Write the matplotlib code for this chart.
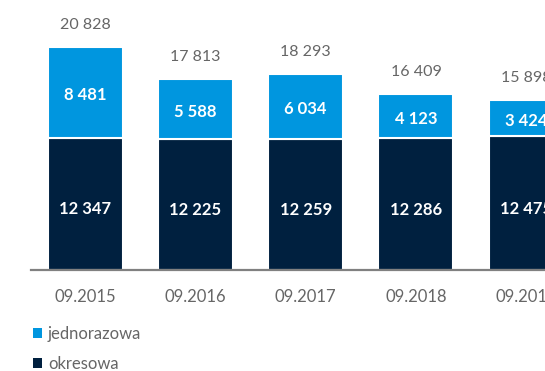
import matplotlib.pyplot as plt

plt.rcParams['font.family'] = ['Lato', 'DejaVu Sans']

okresy = ["09.2015", "09.2016", "09.2017", "09.2018", "09.2019"]
okresowa = [12347, 12225, 12259, 12286, 12475]
jednorazowa = [8481, 5588, 6034, 4123, 3424]
razem = [20828, 17813, 18293, 16409, 15898]

KOL_JEDN = "#0096df"
KOL_OKR = "#00203f"
SZARY = "#666666"

def fmt(v):
    return f"{v:,}".replace(",", " ")

fig = plt.figure(figsize=(5.45, 3.71), dpi=100)
# osie wychodza poza prawa krawedz, ostatni slupek jest uciety
ax = fig.add_axes([31 / 545, 101 / 371, 514 / 545, 270 / 371])

x = list(range(len(okresy)))
b1 = ax.bar(x, okresowa, width=0.68, color=KOL_OKR, edgecolor="white", linewidth=1.5, label="okresowa")
b2 = ax.bar(x, jednorazowa, width=0.68, bottom=okresowa, color=KOL_JEDN, edgecolor="white",
            linewidth=1.5, label="jednorazowa")

for i in x:
    ax.text(i, okresowa[i] / 2 - 500, fmt(okresowa[i]), ha="center", va="center",
            color="white", fontsize=12, fontweight="bold")
    ax.text(i, okresowa[i] + jednorazowa[i] / 2 - 250, fmt(jednorazowa[i]), ha="center", va="center",
            color="white", fontsize=12, fontweight="bold")
    ax.annotate(fmt(razem[i]), (i, okresowa[i] + jednorazowa[i]), xytext=(0, 22),
                textcoords="offset pixels", ha="center", va="center", color=SZARY, fontsize=11.5)

ax.set_xlim(-0.49, 4.17)
ax.set_ylim(0, 25220)

for s in ["top", "right", "left"]:
    ax.spines[s].set_visible(False)
ax.spines["bottom"].set_color("#808080")
ax.spines["bottom"].set_linewidth(1.6)
ax.spines["bottom"].set_zorder(5)
ax.set_yticks([])
ax.set_xticks(x)
ax.set_xticklabels(okresy, color=SZARY, fontsize=12)
ax.tick_params(axis="x", length=0, pad=14)

leg = fig.legend([b2, b1], ["jednorazowa", "okresowa"], loc="upper left",
                 bbox_to_anchor=(18 / 545, 1 - 311 / 371), frameon=False,
                 handlelength=0.55, handleheight=0.55, handletextpad=0.35,
                 labelspacing=0.85, fontsize=12, labelcolor=SZARY)
for h in leg.legend_handles:
    h.set_edgecolor("none")

fig.savefig("out.png", dpi=100)
